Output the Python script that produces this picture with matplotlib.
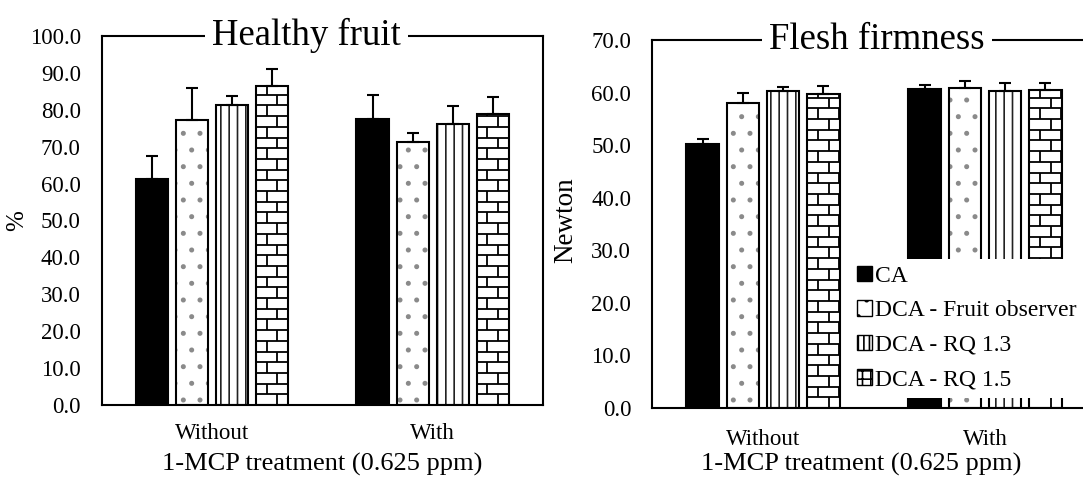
import numpy as np
import matplotlib
matplotlib.use("Agg")
import matplotlib.pyplot as plt
from matplotlib.patches import Patch
from matplotlib.collections import LineCollection
from matplotlib.ticker import FormatStrFormatter

plt.rcParams['font.family'] = ['Liberation Serif', 'DejaVu Serif']
plt.rcParams['hatch.linewidth'] = 1.2

# --- data ---
groups = ["Without", "With"]
series = ["CA", "DCA - Fruit observer", "DCA - RQ 1.3", "DCA - RQ 1.5"]

# healthy fruit (%), one list per series: [Without, With]
healthy_mean = [[61.2, 77.6], [77.2, 71.3], [81.3, 76.2], [86.3, 78.8]]
healthy_err = [[6.3, 6.3], [8.6, 2.4], [2.4, 4.7], [4.7, 4.7]]

# flesh firmness (Newton)
firm_mean = [[50.3, 60.7], [58.1, 60.9], [60.3, 60.3], [59.7, 60.5]]
firm_err = [[0.9, 0.8], [1.8, 1.3], [0.7, 1.6], [1.6, 1.4]]

# styles per series: (face, hatch, hatch colour)
styles = [("black", None, "black"),
          ("white", ".", "#8a8a8a"),
          ("white", "||", "#222222"),
          ("white", None, "black")]

BAR_W = 0.146
STEP = 0.1815


def add_bricks(ax, bars, row_px=10.7, brick_px=21.5):
    fig = ax.figure
    pos = ax.get_position()
    w_px = pos.width * fig.get_figwidth() * fig.dpi
    h_px = pos.height * fig.get_figheight() * fig.dpi
    x0, x1 = ax.get_xlim(); y0, y1 = ax.get_ylim()
    rh = row_px * (y1 - y0) / h_px
    bl = brick_px * (x1 - x0) / w_px
    for b in bars:
        bx, bw, bh = b.get_x(), b.get_width(), b.get_height()
        segs = []
        k = 0; y = 0.0
        while y < bh:
            yt = min(y + rh, bh)
            segs.append([(bx, y), (bx + bw, y)])
            xs = bx + (k % 2) * bl / 2
            while xs < bx + bw:
                segs.append([(xs, y), (xs, yt)])
                xs += bl
            y += rh; k += 1
        lc = LineCollection(segs, colors="black", linewidths=1.3, zorder=2.2)
        lc.set_clip_path(b)
        ax.add_collection(lc, autolim=False)


def draw_panel(ax, means, errs, ymax, ystep, title, title_x, ylabel):
    ax.set_xlim(-0.5, 1.5)
    ax.set_ylim(0, ymax)
    x = np.arange(len(groups))
    for i, (m, e) in enumerate(zip(means, errs)):
        face, hatch, hcol = styles[i]
        xi = x + (i - 1.5) * STEP
        base = ax.bar(xi, m, BAR_W, color=face, hatch=hatch,
                      edgecolor=hcol, linewidth=0, zorder=2)
        if i == 3:
            add_bricks(ax, base)
        ax.bar(xi, m, BAR_W, fill=False, edgecolor="black",
               linewidth=1.5, zorder=2.4)
        ax.errorbar(xi, m, yerr=[np.zeros(len(e)), e], fmt="none",
                    ecolor="black", elinewidth=1.5, capsize=4.5,
                    capthick=1.5, zorder=2.3)

    ax.set_yticks(np.arange(0, ymax + 0.1, ystep))
    ax.yaxis.set_major_formatter(FormatStrFormatter("%.1f"))
    ax.set_xticks(x)
    ax.set_xticklabels(groups)
    ax.tick_params(axis="both", length=0, labelsize=16.5)
    ax.tick_params(axis="y", pad=15)
    ax.tick_params(axis="x", pad=13)
    for s in ax.spines.values():
        s.set_linewidth(1.5)
        s.set_color("black")
    ax.set_xlabel("1-MCP treatment (0.625 ppm)", fontsize=19)
    ax.set_ylabel(ylabel, fontsize=19.5)
    ax.text(title_x, 1.0, title, transform=ax.transAxes, ha="center",
            va="center", fontsize=26.5, zorder=5,
            bbox=dict(facecolor="white", edgecolor="none", pad=5))


fig = plt.figure(figsize=(10.83, 4.8), dpi=100)
ax1 = fig.add_axes([0.0938, 0.15625, 0.4076, 0.769])
ax2 = fig.add_axes([0.602, 0.15, 0.41, 0.7667])

draw_panel(ax1, healthy_mean, healthy_err, 100, 10, "Healthy fruit", 0.465, "%")
draw_panel(ax2, firm_mean, firm_err, 70, 10, "Flesh firmness", 0.507, "Newton")

ax1.xaxis.set_label_coords(0.5, -0.13)
ax1.yaxis.set_label_coords(-0.166, 0.5)
ax1.yaxis.label.set_fontsize(18)
ax2.xaxis.set_label_coords(0.472, -0.122)
ax2.yaxis.set_label_coords(-0.167, 0.51)
ax2.tick_params(axis="x", pad=15)

handles = [
    Patch(facecolor="black", edgecolor="black"),
    Patch(facecolor="white", edgecolor="black", hatch="."),
    Patch(facecolor="white", edgecolor="black", hatch="|||"),
    Patch(facecolor="white", edgecolor="black", hatch="++"),
]
ax2.legend(handles, series, loc="upper left", bbox_to_anchor=(0.446, 0.406),
           borderaxespad=0, frameon=True, framealpha=1, facecolor="white",
           edgecolor="none", fancybox=False, fontsize=17,
           handlelength=0.64, handleheight=0.64, handletextpad=0.13,
           labelspacing=0.57, borderpad=0.3)

fig.savefig("out.png", dpi=100)
